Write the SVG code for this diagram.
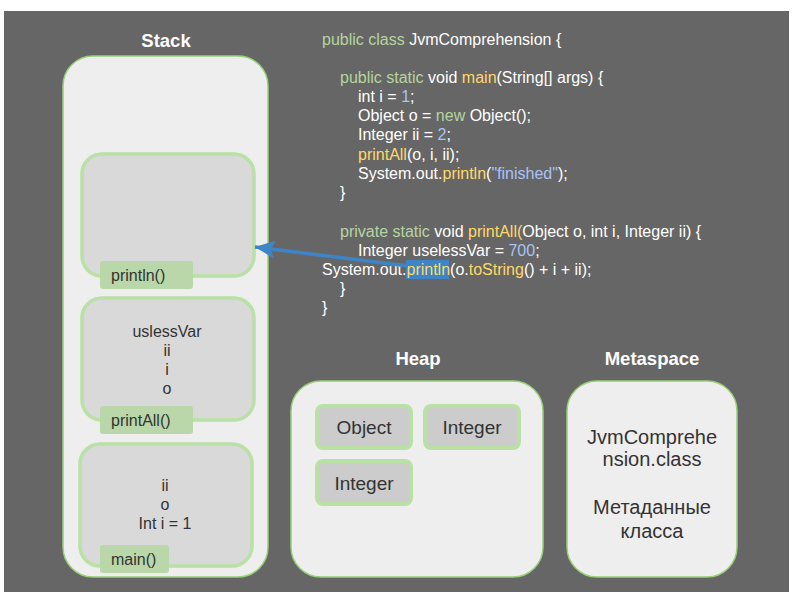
<svg xmlns="http://www.w3.org/2000/svg" width="800" height="600" viewBox="0 0 800 600">
<defs>
<style>
.bg{fill:#ffffff}
.panel{fill:#666666}
.area{fill:#eeeeee;stroke:#97d077;stroke-width:1.5}
.frame{fill:#d9d9d9;stroke:#b9e0a5;stroke-width:3.5}
.tag{fill:#b9d7a8}
.obj{fill:#cccccc;stroke:#b9e0a5;stroke-width:4}
.title{font-family:"Liberation Sans",Arial,sans-serif;font-size:18.5px;font-weight:bold;fill:#ffffff;text-anchor:middle}
.lbl{font-family:"Liberation Sans",Arial,sans-serif;font-size:16px;fill:#333333}
.mid{text-anchor:middle}
.big{font-family:"Liberation Sans",Arial,sans-serif;font-size:19px;fill:#333333;text-anchor:middle}
.meta{font-family:"Liberation Sans",Arial,sans-serif;font-size:20px;fill:#333333;text-anchor:middle}
.code{font-family:"Liberation Sans",Arial,sans-serif;font-size:16px;fill:#ffffff}
.kw{fill:#b5d5a0}
.fn{fill:#ffd966}
.num{fill:#a9c4f5}
</style>
<marker id="ah" markerUnits="userSpaceOnUse" markerWidth="22" markerHeight="18" refX="20" refY="9" orient="auto">
<path d="M0,0 L20,9 L0,18 L4,9 Z" fill="#3d85c6"/>
</marker>
</defs>
<rect class="bg" x="0" y="0" width="800" height="600"/>
<rect class="panel" x="4" y="11" width="785" height="581"/>

<g id="stack">
<text class="title" x="166" y="47">Stack</text>
<rect class="area" x="63" y="56" width="205" height="521" rx="30" ry="30"/>
</g>
<g id="frame-println">
<rect class="frame" x="82" y="154" width="172" height="122" rx="20" ry="20"/>
<rect class="tag" x="100" y="261" width="93" height="28" rx="3"/>
<text class="lbl" x="111" y="281">println()</text>
</g>
<g id="frame-printAll">
<rect class="frame" x="82" y="298" width="172" height="122" rx="20" ry="20"/>
<text class="lbl mid" x="167" y="337">uslessVar</text>
<text class="lbl mid" x="167" y="356">ii</text>
<text class="lbl mid" x="167" y="375">i</text>
<text class="lbl mid" x="167" y="394">o</text>
<rect class="tag" x="100" y="406" width="93" height="28" rx="3"/>
<text class="lbl" x="111" y="426">printAll()</text>
</g>
<g id="frame-main">
<rect class="frame" x="80" y="444" width="172" height="122" rx="20" ry="20"/>
<text class="lbl mid" x="165" y="491">ii</text>
<text class="lbl mid" x="165" y="510">o</text>
<text class="lbl mid" x="165" y="529">Int i = 1</text>
<rect class="tag" x="100" y="545" width="69" height="28" rx="3"/>
<text class="lbl" x="111" y="565">main()</text>
</g>

<g id="heap">
<text class="title" x="418" y="365">Heap</text>
<rect class="area" x="291" y="381" width="252" height="196" rx="30" ry="30"/>
</g>
<g id="heap-object">
<rect class="obj" x="317" y="406" width="94" height="42" rx="6"/>
<text class="big" x="364" y="434">Object</text>
</g>
<g id="heap-integer1">
<rect class="obj" x="425" y="406" width="94" height="42" rx="6"/>
<text class="big" x="472" y="434">Integer</text>
</g>
<g id="heap-integer2">
<rect class="obj" x="317" y="461" width="94" height="43" rx="6"/>
<text class="big" x="364" y="490">Integer</text>
</g>

<g id="metaspace">
<text class="title" x="652" y="365">Metaspace</text>
<rect class="area" x="567" y="381" width="170" height="196" rx="30" ry="30"/>
<text class="meta" x="652" y="444">JvmComprehe</text>
<text class="meta" x="652" y="466">nsion.class</text>
<text class="meta" x="652" y="514">Метаданные</text>
<text class="meta" x="652" y="538">класса</text>
</g>

<g id="code">
<rect x="406" y="260" width="43" height="19" fill="#3d85c6"/>
<text class="code" x="322" y="45"><tspan class="kw">public class</tspan> JvmComprehension {</text>
<text class="code" x="340" y="83"><tspan class="kw">public static</tspan> void <tspan class="fn">main</tspan>(String[] args) {</text>
<text class="code" x="358" y="102">int i = <tspan class="num">1</tspan>;</text>
<text class="code" x="358" y="121">Object o = <tspan class="kw">new</tspan> Object();</text>
<text class="code" x="358" y="140">Integer ii = <tspan class="num">2</tspan>;</text>
<text class="code" x="358" y="160"><tspan class="fn">printAll</tspan>(o, i, ii);</text>
<text class="code" x="358" y="179">System.out.<tspan class="fn">println</tspan>(<tspan class="num">"finished"</tspan>);</text>
<text class="code" x="340" y="198">}</text>
<text class="code" x="340" y="237"><tspan class="kw">private static</tspan> void <tspan class="fn">printAll(</tspan>Object o, int i, Integer ii) {</text>
<text class="code" x="358" y="256">Integer uselessVar = <tspan class="num">700</tspan>;</text>
<text class="code" x="322" y="275">System.out.<tspan class="fn">println</tspan>(o.<tspan class="fn">toString</tspan>() + i + ii);</text>
<text class="code" x="340" y="294">}</text>
<text class="code" x="322" y="313">}</text>
</g>

<g id="connectors">
<line x1="408" y1="266" x2="255" y2="247" stroke="#3d85c6" stroke-width="3.5" marker-end="url(#ah)"/>
</g>
</svg>
